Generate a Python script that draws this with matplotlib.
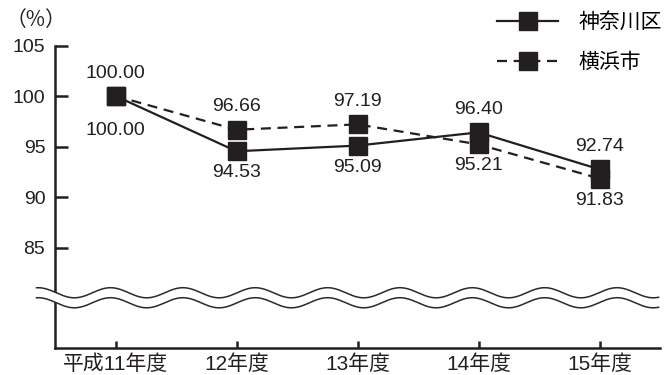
import numpy as np
import matplotlib
matplotlib.use('Agg')
import matplotlib.pyplot as plt

plt.rcParams['font.family'] = ['Liberation Sans', 'Noto Sans CJK JP']
plt.rcParams['font.size'] = 14

years = ['平成11年度', '12年度', '13年度', '14年度', '15年度']
kanagawa = [100.00, 94.53, 95.09, 96.40, 92.74]
yokohama = [100.00, 96.66, 97.19, 95.21, 91.83]
yticks = [85, 90, 95, 100, 105]

ink = '#231f20'
x = np.arange(len(years))

fig = plt.figure(figsize=(6.71, 3.75), dpi=100)
ax = fig.add_axes([55 / 671, 27.5 / 375, 605 / 671, 302 / 375])

l1, = ax.plot(x, kanagawa, '-', color=ink, lw=1.6, marker='s', ms=13,
              mfc=ink, mec=ink, label='神奈川区', clip_on=False, zorder=5)
l2, = ax.plot(x, yokohama, '--', color=ink, lw=1.6, marker='s', ms=13,
              mfc=ink, mec=ink, label='横浜市', clip_on=False, zorder=4,
              dashes=(4.5, 3))

# value labels: the higher series above the marker, the lower one below
for i in range(len(x)):
    k, y = kanagawa[i], yokohama[i]
    if i == 0:
        ax.annotate('%.2f' % y, (x[i], y), xytext=(0, 16.5),
                    textcoords='offset points', ha='center', va='center',
                    color=ink)
        ax.annotate('%.2f' % k, (x[i], k), xytext=(0, -24.5),
                    textcoords='offset points', ha='center', va='center',
                    color=ink)
        continue
    hi, lo = (k, y) if k > y else (y, k)
    ax.annotate('%.2f' % hi, (x[i], hi), xytext=(0, 16.5),
                textcoords='offset points', ha='center', va='center',
                color=ink)
    ax.annotate('%.2f' % lo, (x[i], lo), xytext=(0, -15.5),
                textcoords='offset points', ha='center', va='center',
                color=ink)

ax.set_xlim(-0.5, 4.5)
ax.set_ylim(75.1, 105)
ax.set_xticks(x)
ax.set_xticklabels(years, color=ink, fontsize=15)
ax.set_yticks(yticks)
ax.set_yticklabels([str(v) for v in yticks], color=ink)

for side in ['top', 'right']:
    ax.spines[side].set_visible(False)
for side in ['left', 'bottom']:
    ax.spines[side].set_linewidth(1.8)
    ax.spines[side].set_color(ink)
ax.tick_params(axis='y', direction='in', length=9.5, width=1.8, pad=7,
               colors=ink)
ax.tick_params(axis='x', direction='in', length=5, width=1.8, pad=5,
               colors=ink)

# axis break: two wavy lines with a white band between them
wx = np.linspace(-0.653, 4.488, 600)
phase = np.cos(2 * np.pi * (wx + 0.041) / 0.598)
upper = 80.52 + 0.5 * phase
lower = 79.53 + 0.5 * phase
ax.fill_between(wx, lower, upper, color='white', zorder=3, clip_on=False,
                lw=0)
ax.plot(wx, upper, color='#2a2a2a', lw=1.1, zorder=3.5, clip_on=False)
ax.plot(wx, lower, color='#2a2a2a', lw=1.1, zorder=3.5, clip_on=False)

fig.text(6 / 671, 1 - 20 / 375, '（%）', ha='left', va='center',
         color=ink, fontsize=15, family='Noto Sans CJK JP')

ax.legend(handles=[l1, l2], loc='upper left', frameon=False,
          bbox_to_anchor=(497 / 671, 1 - 12 / 375),
          bbox_transform=fig.transFigure, borderpad=0, borderaxespad=0,
          handlelength=2.95, handletextpad=0.95, labelspacing=1.0,
          fontsize=15)

fig.savefig('out.png', dpi=100)
